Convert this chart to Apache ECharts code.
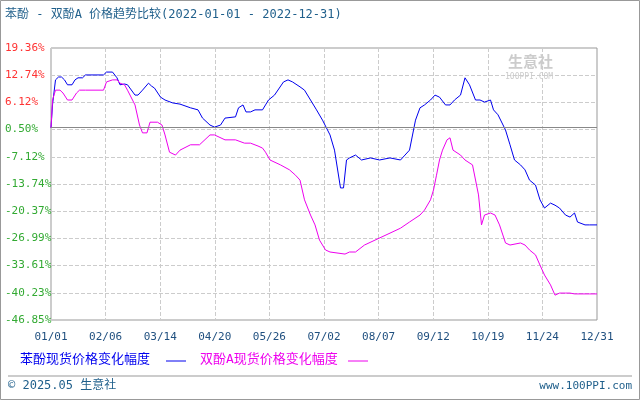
<!DOCTYPE html><html><head><meta charset="utf-8"><script src="https://cdn.jsdelivr.net/npm/echarts@6/dist/echarts.min.js"></script>
<style>body{margin:0}#c{width:640px;height:400px}</style></head><body><div id="c"></div><script>
const yTicks=[19.36,12.74,6.12,0.50,-7.12,-13.74,-20.37,-26.99,-33.61,-40.23,-46.85];
const xLabels=['01/01','02/06','03/14','04/20','05/26','07/02','08/07','09/12','10/19','11/24','12/31'];
const phenolDays=[0,1,3,5,7,9,11,14,16,18,21,23,35,37,41,44,46,49,51,56,58,61,65,67,69,73,76,81,86,93,98,101,106,109,113,116,123,125,128,130,133,136,141,143,145,149,155,158,161,166,169,173,177,181,186,189,193,195,197,199,203,207,213,219,226,233,236,239,243,246,249,253,256,259,263,266,269,273,276,279,283,286,289,293,295,298,303,306,309,313,316,319,323,326,329,333,336,339,343,346,349,351,356,359,364];
const phenolVals=[-0.1,5.5,11.6,12.3,12.3,11.6,10.4,10.4,11.6,12.1,12.1,12.8,12.8,13.5,13.5,12.1,10.4,10.6,10.4,7.9,7.9,9.1,10.8,10.1,9.6,7.4,6.7,6.0,5.7,4.8,4.3,2.3,0.6,0.1,0.6,2.3,2.6,4.8,5.5,3.8,3.8,4.3,4.3,5.5,6.7,7.9,11.1,11.6,11.1,9.9,9.1,6.7,4.3,1.8,-1.8,-5.5,-14.7,-14.7,-7.9,-7.4,-6.7,-7.9,-7.4,-7.9,-7.4,-7.9,-6.7,-5.5,1.8,4.8,5.5,6.7,7.9,7.4,5.5,5.5,6.7,7.9,12.1,10.4,6.7,6.7,6.2,6.7,4.3,3.1,-0.6,-4.2,-7.9,-9.1,-10.3,-12.8,-14.0,-17.6,-19.6,-18.4,-18.9,-19.6,-21.3,-21.8,-20.8,-23.0,-23.7,-23.7,-23.7];
const bpaDays=[0,1,3,6,8,11,14,17,19,23,35,37,41,44,46,49,51,56,59,61,64,66,71,74,76,79,83,86,93,99,106,109,116,123,129,133,138,141,143,146,153,159,163,166,169,173,176,179,183,186,196,199,203,209,216,226,233,239,246,249,253,255,257,259,261,264,266,268,273,276,281,285,287,289,293,296,299,303,306,313,316,319,323,326,329,333,336,339,343,346,349,359,364];
const bpaVals=[-0.1,6.7,9.1,9.1,8.4,6.7,6.7,8.4,9.1,9.1,9.1,11.1,11.6,11.6,10.8,10.4,9.1,5.5,0.6,-1.3,-1.3,1.3,1.3,0.6,-1.8,-6.0,-6.7,-5.5,-4.2,-4.2,-1.8,-1.8,-3.0,-3.0,-3.8,-3.8,-4.5,-5.0,-6.0,-7.9,-9.1,-10.3,-11.6,-12.8,-17.6,-21.3,-23.7,-27.4,-29.8,-30.3,-30.8,-30.3,-30.3,-28.6,-27.4,-25.7,-24.5,-23.0,-21.3,-20.1,-17.6,-15.2,-11.6,-7.9,-5.5,-3.0,-2.5,-5.5,-6.7,-7.9,-9.1,-16.4,-23.7,-21.3,-20.8,-21.3,-23.7,-28.1,-28.6,-28.1,-28.6,-29.8,-31.0,-33.5,-35.9,-38.3,-40.8,-40.3,-40.3,-40.3,-40.5,-40.5,-40.5];
const base=46.85, step=6.621;
const pair=(d,v)=>d.map((x,i)=>[x,v[i]+base]);
const ch=echarts.init(document.getElementById('c'));
const f='"DejaVu Sans Mono", "Noto Sans CJK SC", monospace';
ch.setOption({animation:false,backgroundColor:'#fff',
grid:{left:51,top:48,right:43,bottom:80,show:true,borderColor:'#999',borderWidth:1},
xAxis:{type:'value',min:0,max:364,interval:36.4,axisLine:{show:false},axisTick:{show:false},
 axisLabel:{margin:12,color:'#1f4f7f',fontSize:11,fontFamily:f,formatter:v=>xLabels[Math.round(v/36.4)]||''},
 splitLine:{lineStyle:{color:'#ccc',type:'dashed'}}},
yAxis:{type:'value',min:0,max:step*10,interval:step,axisLine:{show:false},axisTick:{show:false},
 axisLabel:{inside:false,margin:46,align:'left',fontSize:11,fontFamily:f,
  formatter:v=>{const t=yTicks[10-Math.round(v/step)];return t===undefined?'':(t>0&&Math.round(v/step)!==7?'{r|':'{g|')+t.toFixed(2)+'%}';},
  rich:{r:{color:'#ff3333',fontSize:11,fontFamily:f},g:{color:'#33aa33',fontSize:11,fontFamily:f}}},
 splitLine:{lineStyle:{color:'#ccc',type:'dashed'}}},
series:[
 {type:'line',data:pair(phenolDays,phenolVals),showSymbol:false,lineStyle:{color:'#0000ee',width:1},markLine:{silent:true,symbol:'none',label:{show:false},lineStyle:{color:'#888',type:'solid',width:1},data:[{yAxis:base}]}},
 {type:'line',data:pair(bpaDays,bpaVals),showSymbol:false,lineStyle:{color:'#ee00ee',width:1}}],
graphic:[
 {type:'rect',shape:{x:0.5,y:0.5,width:639,height:399},style:{fill:'none',stroke:'#999'}},
 {type:'text',left:5,top:9,style:{text:'苯酚 - 双酚A 价格趋势比较(2022-01-01 - 2022-12-31)',fill:'#1f5f8b',font:'12px '+f}},
 {type:'text',left:20,top:353,style:{text:'苯酚现货价格变化幅度',fill:'#0000ee',font:'13px '+f}},
 {type:'line',shape:{x1:166,y1:361,x2:186,y2:361},style:{stroke:'#0000ee'}},
 {type:'text',left:200,top:353,style:{text:'双酚A现货价格变化幅度',fill:'#ee00ee',font:'13px '+f}},
 {type:'line',shape:{x1:348,y1:361,x2:368,y2:361},style:{stroke:'#ee00ee'}},
 {type:'line',shape:{x1:8,y1:376,x2:632,y2:376},style:{stroke:'#999'}},
 {type:'text',left:8,top:380,style:{text:'© 2025.05 生意社',fill:'#1f5f8b',font:'12px '+f}},
 {type:'text',right:8,top:381,style:{text:'www.100PPI.com',fill:'#1f5f8b',font:'11px '+f}},
 {type:'text',left:508,top:56,style:{text:'生意社',fill:'#ccc',font:'bold 15px '+f}},
 {type:'text',left:505,top:73,style:{text:'100PPI.COM',fill:'#ccc',font:'8px '+f}}
]});
</script></body></html>
